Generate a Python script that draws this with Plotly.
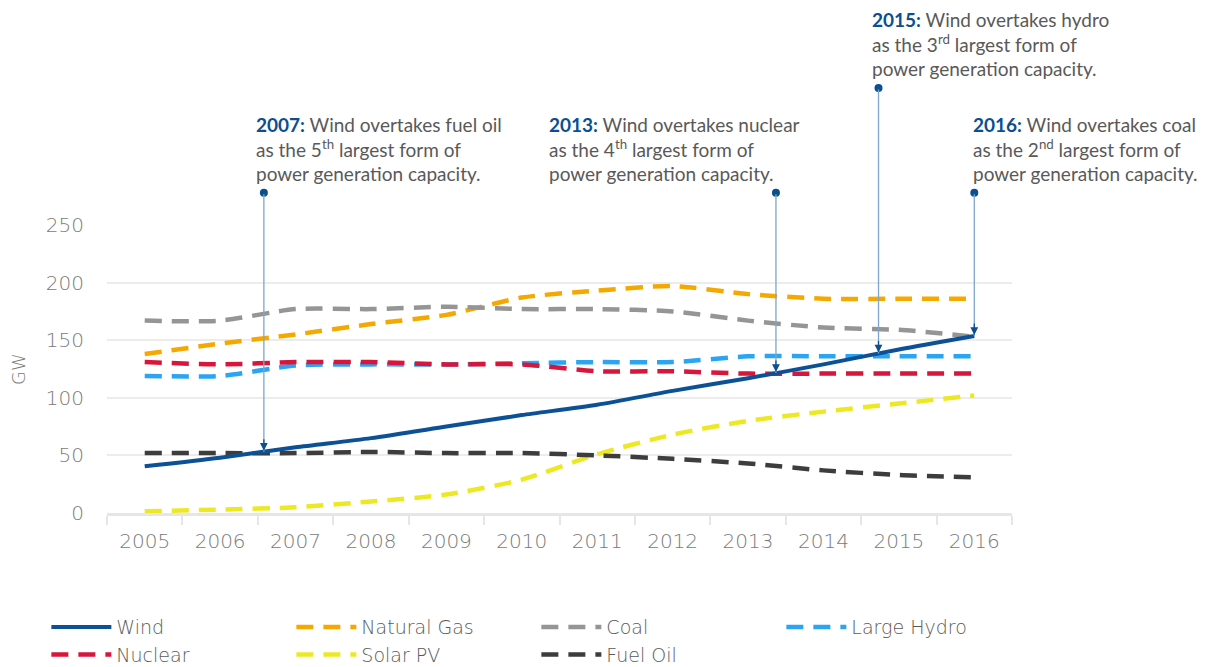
import numpy as np
import plotly.graph_objects as go

# Installed capacity (GW), 2005-2016
years = list(range(2005, 2017))
wind = [40.5, 48, 57, 65, 75, 85, 94, 106, 117, 129, 142, 153.7]
natural_gas = [138, 147, 155, 164, 172, 187, 193, 197, 190, 186, 186, 186]
coal = [167, 167, 177, 177, 179, 177, 177, 175, 167, 161, 159, 153]
large_hydro = [119, 119, 128, 129, 129, 130, 131, 131, 136, 136, 136, 136]
nuclear = [131, 129, 131, 131, 129, 129, 123, 123, 121, 121, 121, 121]
solar_pv = [1.5, 3, 5, 10, 16, 29, 51, 68, 80, 88, 95, 102]
fuel_oil = [52, 52, 52, 53, 52, 52, 50, 47, 43, 37, 33, 31]

# Milestones
event_x = [2006.58, 2013.37, 2014.73, 2016.0]
event_top = [278, 278, 369, 278]  # height of the dot, on the GW scale (above the plot)
event_text = [
    "<b style='color:#0b4f8f'>2007:</b> Wind overtakes fuel oil<br>as the 5<sup>th</sup> largest form of<br>power generation capacity.",
    "<b style='color:#0b4f8f'>2013:</b> Wind overtakes nuclear<br>as the 4<sup>th</sup> largest form of<br>power generation capacity.",
    "<b style='color:#0b4f8f'>2015:</b> Wind overtakes hydro<br>as the 3<sup>rd</sup> largest form of<br>power generation capacity.",
    "<b style='color:#0b4f8f'>2016:</b> Wind overtakes coal<br>as the 2<sup>nd</sup> largest form of<br>power generation capacity.",
]
event_text_x = [2006.52, 2010.4, 2014.68, 2016.02]

Y_MAX = 250
AXIS_FONT = "DejaVu Sans"

series = [
    ("Natural Gas", natural_gas, "#f5a900", 2),
    ("Coal", coal, "#959595", 3),
    ("Large Hydro", large_hydro, "#2ba4f3", 4),
    ("Nuclear", nuclear, "#d8153b", 5),
    ("Solar PV", solar_pv, "#ece923", 6),
    ("Fuel Oil", fuel_oil, "#3d3d3d", 7),
]

fig = go.Figure()

for name, vals, color, rank in series:
    fig.add_trace(go.Scatter(
        x=years, y=vals, mode="lines", name=name, legendrank=rank,
        line=dict(color=color, width=4.5, dash="17px,10px", shape="spline", smoothing=0.7),
    ))

fig.add_trace(go.Scatter(
    x=years, y=wind, mode="lines", name="Wind", legendrank=1,
    line=dict(color="#0c5195", width=4, shape="spline", smoothing=0.7),
))

# arrows from the dots down to the wind line
heads = np.interp(event_x, years, wind)
for ex, top, hy in zip(event_x, event_top, heads):
    fig.add_annotation(
        x=ex, y=hy, ax=ex, ay=top, xref="x", yref="y", axref="x", ayref="y",
        text="", showarrow=True, arrowhead=0, arrowwidth=1.3, arrowcolor="#7ea6cc",
    )
    fig.add_annotation(
        x=ex, y=hy, ax=0, ay=-14, xref="x", yref="y",
        text="", showarrow=True, arrowhead=2, arrowsize=1.2, arrowwidth=1.3,
        arrowcolor="#0b4f8f", standoff=1,
    )
    fig.add_shape(
        type="circle", xref="x", yref="paper", xsizemode="pixel", ysizemode="pixel",
        xanchor=ex, yanchor=top / Y_MAX, x0=-4, x1=4, y0=-4, y1=4,
        fillcolor="#0b4f8f", line=dict(width=0),
    )

for tx, top, txt in zip(event_text_x, event_top, event_text):
    fig.add_annotation(
        x=tx, y=top / Y_MAX, xref="x", yref="paper", text=txt, showarrow=False,
        xanchor="left", yanchor="bottom", align="left", yshift=7, xshift=-4,
        borderpad=0, font=dict(family="Lato", size=19, color="#595959"),
    )

# the page body adds an 8px offset, so the figure is a bit smaller than the window
fig.update_layout(
    width=1198, height=659,
    margin=dict(l=99, r=194, t=217, b=154, autoexpand=False),
    plot_bgcolor="white", paper_bgcolor="white",
    font=dict(family=AXIS_FONT, color="#7a7a7a"),
    showlegend=True,
    legend=dict(
        orientation="h", x=-0.067, xanchor="left", y=-0.33, yanchor="top",
        entrywidth=170, itemwidth=60, tracegroupgap=0,
        font=dict(family=AXIS_FONT, size=19, color="#5a5a5a", weight=300),
        traceorder="normal",
    ),
)

fig.update_xaxes(
    range=[2004.5, 2016.5], tickvals=years, ticktext=[str(y) for y in years],
    showgrid=False, zeroline=False,
    showline=True, linecolor="#e6e6e6", linewidth=3,
    tickfont=dict(family=AXIS_FONT, size=20, color="#7a7a7a", weight=300),
    ticks="", ticklabelstandoff=8,
    minor=dict(tickvals=[y - 0.5 for y in years] + [2016.5], ticks="outside",
               ticklen=9, tickwidth=2, tickcolor="#e6e6e6", showgrid=False),
)
fig.update_yaxes(
    range=[0, Y_MAX], dtick=50, showgrid=True, gridcolor="#ececec", gridwidth=2,
    zeroline=False, showline=False,
    tickfont=dict(family=AXIS_FONT, size=20, color="#7a7a7a", weight=300),
    ticklabelstandoff=22,
    title=dict(text="GW", font=dict(family=AXIS_FONT, size=18, color="#7a7a7a", weight=300),
               standoff=16),
)

fig.write_html("out.html")
